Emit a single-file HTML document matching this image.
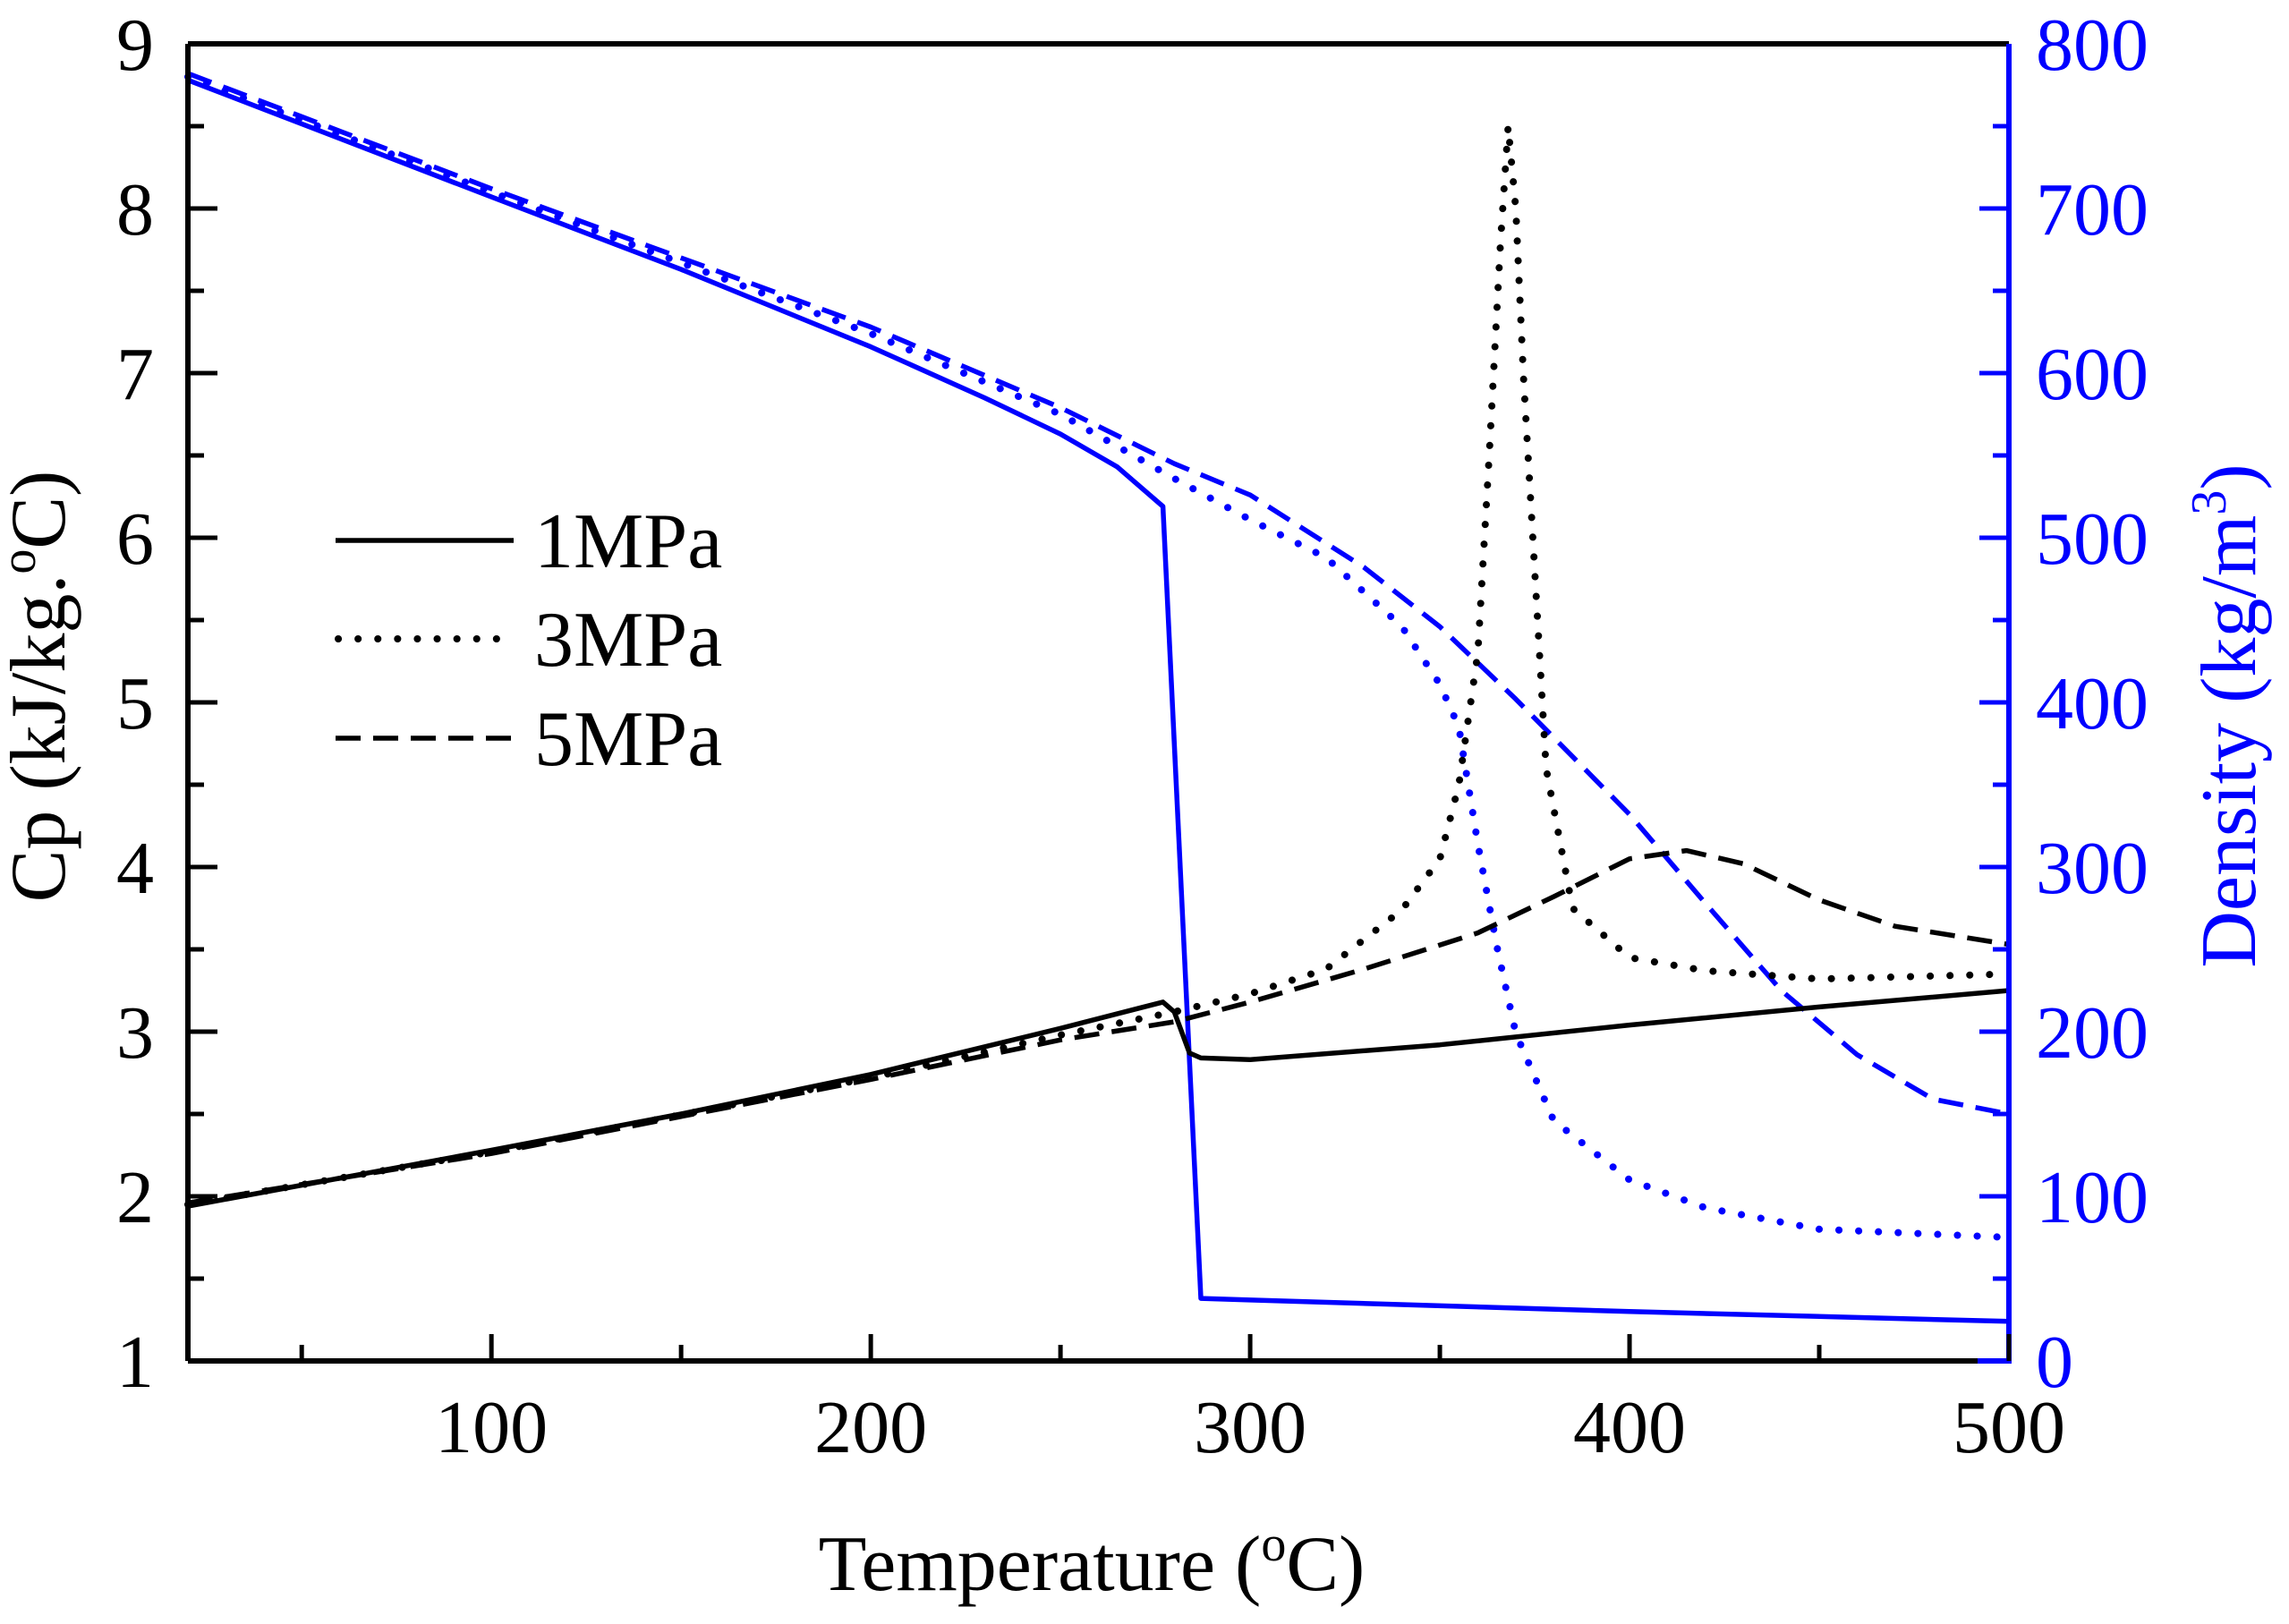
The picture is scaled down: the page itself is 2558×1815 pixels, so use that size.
<!DOCTYPE html>
<html><head><meta charset="utf-8"><style>
html,body{margin:0;padding:0;background:#fff;}
svg{display:block;font-family:"Liberation Serif",serif;}
</style></head><body>
<svg id="chart" width="2558" height="1815" viewBox="0 0 2558 1815" xmlns="http://www.w3.org/2000/svg">
<g id="marks"></g>
<g id="axes"></g>
<g>
 <line x1="375" y1="604" x2="574" y2="604" stroke="#000" stroke-width="5.5"/>
 <text x="597" y="634" font-size="88">1MPa</text>
 <line x1="378" y1="714" x2="574" y2="714" stroke="#000" stroke-width="8" stroke-dasharray="0.1 22" stroke-linecap="round"/>
 <text x="597" y="744" font-size="88">3MPa</text>
 <line x1="375" y1="825" x2="574" y2="825" stroke="#000" stroke-width="5.5" stroke-dasharray="28 14"/>
 <text x="597" y="855" font-size="88">5MPa</text>
</g>
<text x="1220" y="1777" font-size="88" text-anchor="middle">Temperature (<tspan font-size="56" dy="-33">o</tspan><tspan dy="33">C)</tspan></text>
<text transform="translate(72,767) rotate(-90)" font-size="88" text-anchor="middle">Cp (kJ/kg.<tspan font-size="56" dy="-33">o</tspan><tspan dy="33">C)</tspan></text>
<text transform="translate(2520,800) rotate(-90)" font-size="88" fill="#0000ff" text-anchor="middle">Density (kg/m<tspan font-size="56" dy="-33">3</tspan><tspan dy="33">)</tspan></text>
</svg>
<script>
const temps1 = [20,100,150,200,250,277,280,284,287,300,350,400,450,500];
const cp1 = [1.94,2.28,2.5,2.74,3.02,3.18,3.12,2.87,2.84,2.83,2.92,3.04,3.15,3.25];
const tempsCp3 = [20,100,200,250,280,300,320,340,350,355,360,363,366,368,370,372,375,378,385,400,420,450,500];
const cp3 = [1.95,2.27,2.72,2.98,3.12,3.23,3.38,3.74,4.05,4.5,5.3,6.5,7.8,8.5,8.0,7.0,5.8,4.6,3.75,3.45,3.37,3.32,3.35];
const tempsCp5 = [20,100,200,250,280,300,330,360,380,400,415,430,450,470,500];
const cp5 = [1.96,2.26,2.71,2.95,3.06,3.18,3.38,3.6,3.82,4.05,4.1,4.02,3.8,3.64,3.53];
const tempsD1 = [20,100,150,200,230,250,265,277,287,300,400,500];
const dens1 = [778,707,663,616,585,563,543,519,38,37,30,24];
const tempsD3 = [20,100,200,250,280,300,320,340,350,355,360,365,370,380,400,420,450,500];
const dens3 = [780,710,624,575,536,511,488,446,411,385,314,252,199,146,110,93,80,75];
const tempsD5 = [20,100,200,250,280,300,330,350,370,400,420,440,460,480,500];
const dens5 = [782,712,628,579,545,526,482,446,402,332,278,225,186,159,150];
const xTicks = [100,200,300,400,500];
const cpTicks = [1,2,3,4,5,6,7,8,9];
const densTicks = [0,100,200,300,400,500,600,700,800];

const L=210,R=2245,T=49,B=1521;
const xS = t => L + (t-20)/480*(R-L);
const yCp = c => B - (c-1)/8*(B-T);
const yD = d => B - d/800*(B-T);
const NS="http://www.w3.org/2000/svg";
const marks=document.getElementById('marks'), axes=document.getElementById('axes');
function mk(tag, attrs, parent){const e=document.createElementNS(NS,tag);for(const k in attrs)e.setAttribute(k,attrs[k]);parent.appendChild(e);return e;}
function series(xs, ys, yf, color, dash, w, name){
  const pts = xs.map((t,i)=>xS(t).toFixed(1)+','+yf(ys[i]).toFixed(1)).join(' ');
  const p = mk('polyline',{points:pts,fill:'none',stroke:color,'stroke-width':w,'stroke-linejoin':'round'},marks);
  if(dash){p.setAttribute('stroke-dasharray',dash); if(dash.startsWith('0.1')) p.setAttribute('stroke-linecap','round');}
  
  
}
series(tempsD1,dens1,yD,'#0000ff',null,5.5,'density-1mpa-line');
series(tempsD3,dens3,yD,'#0000ff','0.1 22',8,'density-3mpa-line');
series(tempsD5,dens5,yD,'#0000ff','28 14',5.5,'density-5mpa-line');
series(temps1,cp1,yCp,'#000',null,5.5,'cp-1mpa-line');
series(tempsCp3,cp3,yCp,'#000','0.1 22',8,'cp-3mpa-line');
series(tempsCp5,cp5,yCp,'#000','28 14',5.5,'cp-5mpa-line');

mk('line',{x1:L,y1:T,x2:R,y2:T,stroke:'#000','stroke-width':6},axes);
mk('line',{x1:L,y1:T,x2:L,y2:B,stroke:'#000','stroke-width':6},axes);
mk('line',{x1:L,y1:B,x2:R,y2:B,stroke:'#000','stroke-width':6},axes);
mk('line',{x1:R,y1:T,x2:R,y2:B+3,stroke:'#0000ff','stroke-width':6},axes);
mk('line',{x1:R-35,y1:B,x2:R,y2:B,stroke:'#0000ff','stroke-width':6},axes);
for(let t=50;t<=500;t+=50){
  const major = t%100===0;
  const l = mk('line',{x1:xS(t),y1:B,x2:xS(t),y2:B-(major?30:18),stroke:'#000','stroke-width':5},axes);
  
  
}
xTicks.forEach(t=>{
  const e=mk('text',{x:xS(t),y:1623,'font-size':84,'text-anchor':'middle'},axes);e.textContent=t;
  
  
});
for(let c=1.5;c<9;c+=0.5){
  const major = c%1===0;
  const l = mk('line',{x1:L,y1:yCp(c),x2:L+(major?33:18),y2:yCp(c),stroke:'#000','stroke-width':5},axes);
  
  
}
cpTicks.forEach(c=>{
  const e=mk('text',{x:172,y:yCp(c)+29,'font-size':84,'text-anchor':'end'},axes);e.textContent=c;
  
  
});
for(let d=50;d<800;d+=50){
  const major = d%100===0;
  const l = mk('line',{x1:R,y1:yD(d),x2:R-(major?33:18),y2:yD(d),stroke:'#0000ff','stroke-width':5},axes);
  
  
}
densTicks.forEach(d=>{
  const e=mk('text',{x:2275,y:yD(d)+29,'font-size':84,fill:'#0000ff'},axes);e.textContent=d;
  
  
});
</script>
</body></html>
